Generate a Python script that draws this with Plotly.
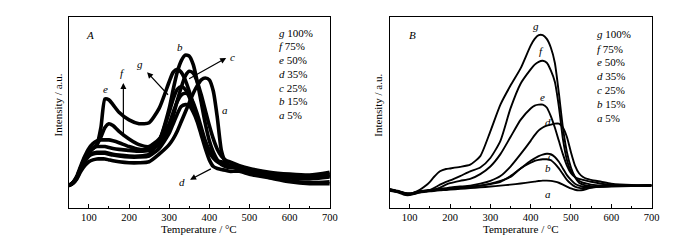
import plotly.graph_objects as go

# ---------------- Panel A data (temperature, intensity a.u.) ----------------
TA = [50, 60, 70, 80, 90, 100, 110, 120, 130, 140, 150, 160, 175, 200, 225, 250, 275,
      300, 310, 320, 330, 340, 350, 360, 370, 380, 390, 400, 410, 420, 430, 440, 450,
      475, 500, 550, 600, 650, 700]

A_a = [11.5, 12.5, 15, 19, 22, 24, 25, 25.5, 25.5, 25.5, 25, 24.5, 24, 23.5, 23.5, 24, 28,
       33, 36, 40, 45, 50, 55, 60, 64, 67, 68, 67, 61, 47, 30, 24, 22,
       20, 18.5, 16, 14, 13, 13.5]
A_b = [11.5, 12.8, 15.5, 20, 24, 27, 28.5, 29, 29, 29, 28.5, 28, 27.5, 27, 27, 28, 35,
       52, 62, 71, 77, 80, 79.5, 75, 66, 55, 44, 35, 29, 25, 22.5, 21.5, 21,
       21, 20, 18, 16.5, 16, 17]
A_c = [11.5, 13, 16, 21, 26, 29, 31, 32, 32, 32, 31.5, 31, 30.5, 30, 29.5, 30, 33,
       42, 48, 56, 63, 69, 71.5, 70.5, 66, 59, 51, 43, 36, 30.5, 27, 25, 24,
       22, 20.5, 18.5, 17.5, 17, 18.5]
A_d = [11.5, 12.8, 15.5, 20, 24.5, 27, 28, 28.5, 28.5, 28.5, 28, 27.5, 27, 26.5, 26.5, 27, 31,
       39, 44, 49, 53, 54, 53.5, 50, 45, 38, 31, 25, 21.5, 20.5, 20, 19.5, 19,
       19, 17.5, 15.5, 13.5, 12.5, 12.5]
A_e = [11.5, 13, 16, 21, 26, 29, 31, 33, 42, 57, 56.5, 54, 50, 46, 44, 44.5, 52,
       66, 71, 72.5, 71, 67, 61, 54, 47, 40, 34, 29.5, 26.5, 24.5, 24, 23, 22,
       20.5, 19, 17, 15.5, 15, 16]
A_f = [11.5, 13, 16, 21, 26, 29, 31, 33, 37, 42, 44, 43, 40, 36, 33, 32, 36,
       44, 50, 55.5, 59, 60, 59, 55, 49, 42, 35, 30, 26.5, 24.5, 23, 22.5, 22,
       21.5, 20, 18, 17, 16.5, 17.5]
A_g = [11.5, 13, 16.5, 22, 27, 31, 33.5, 35, 35.5, 35.5, 35.5, 35, 34, 32, 30.5, 30.5, 35,
       50, 57, 62, 63.5, 62, 58, 52, 46, 40, 34, 29, 26, 24, 23, 22, 21.5,
       20.5, 19.5, 17.5, 16, 15.5, 16.5]

# ---------------- Panel B data ----------------
TB = [50, 70, 90, 100, 110, 125, 140, 150, 160, 175, 190, 200, 225, 250, 275, 300, 325,
      350, 375, 400, 410, 420, 430, 440, 450, 460, 470, 480, 490, 500, 510, 520, 530,
      540, 550, 575, 600, 650, 700]

B_a = [8.8, 8, 6.5, 6.5, 7, 7.8, 8.2, 8.5, 8.7, 9, 9.2, 9.4, 9.8, 10.2, 10.6, 11, 11.5,
       12, 12.6, 13.3, 13.6, 13.9, 14.1, 14.1, 14, 13.6, 13, 12, 11, 10, 9.3, 9, 9.2,
       9.8, 10.3, 11, 11.2, 11.2, 11.3]
B_b = [9.2, 8.3, 7, 6.8, 7.3, 8, 8.5, 8.8, 9, 9.3, 9.5, 9.7, 10.2, 10.8, 11.5, 12.5, 14,
       16, 20.5, 23.5, 24.5, 25, 25.3, 25.3, 24.8, 23, 20.5, 17.5, 14.5, 12.5, 11, 10.3, 10.2,
       10.4, 10.6, 11, 11.3, 11.5, 11.6]
B_c = [9.5, 8.5, 7.3, 7.2, 7.6, 8.3, 8.7, 9, 9.2, 9.5, 9.8, 10, 10.5, 11, 11.5, 12.3, 13.5,
       16.5, 20.5, 24.5, 25.8, 27, 27.8, 28.2, 28, 26.5, 24, 20.5, 17, 14.5, 12.5, 11.5, 11,
       10.8, 10.8, 11, 11, 11.2, 11.5]
B_d = [9.8, 8.8, 7.6, 7.5, 7.8, 8.5, 8.9, 9.2, 9.4, 9.8, 10.2, 10.5, 11, 11.5, 12.5, 14, 16.5,
       21.5, 28, 35, 38, 40.5, 42, 43, 43.5, 44, 44, 42, 37, 29, 22, 18, 16,
       15, 14.5, 13.5, 12.5, 11.8, 11.8]
B_e = [9, 8.2, 7, 6.9, 7.4, 8.3, 8.6, 8.8, 9.3, 10.5, 12, 12.8, 14, 15, 17.5, 21.5, 28,
       37, 46, 52, 53.5, 54, 54, 52.5, 48, 42, 35, 28, 22, 18, 16, 15, 14.5,
       14, 13.5, 12.5, 11.8, 11.5, 11.5]
B_f = [9.3, 8.4, 7.2, 7, 7.6, 8.5, 8.8, 9.2, 10.2, 12, 13.5, 14.2, 16.5, 19, 21, 26, 35,
       52, 65, 72.5, 75, 76.5, 77, 76, 72, 66, 53, 36, 25, 19, 16, 14, 13,
       12.5, 12, 11.5, 11.5, 11.5, 11.8]
B_g = [9.6, 8.6, 7.4, 7.2, 7.8, 9.3, 11.5, 13.5, 16, 19, 20.2, 20.5, 21.3, 22.5, 27, 40, 54,
       64, 73, 85, 88.5, 90.5, 90.5, 88.5, 84, 76, 60, 42, 29, 21, 16, 13, 12,
       11.5, 11.2, 11, 11.2, 11.3, 11.5]

SERIES_NAMES = ["a", "b", "c", "d", "e", "f", "g"]
LEGEND_TEXT = ["g 100%", "f 75%", "e 50%", "d 35%", "c 25%", "b 15%", "a 5%"]
X_TICKS = [100, 200, 300, 400, 500, 600, 700]

A_series = [A_a, A_b, A_c, A_d, A_e, A_f, A_g]
B_series = [B_a, B_b, B_c, B_d, B_e, B_f, B_g]

SERIF = "Liberation Serif, Times New Roman, serif"

fig = go.Figure()
for name, ys in zip(SERIES_NAMES, A_series):
    fig.add_trace(go.Scatter(x=TA, y=ys, mode="lines", name=name,
                             line=dict(color="black", width=3.6, shape="spline", smoothing=0.6),
                             xaxis="x", yaxis="y", showlegend=False))
for name, ys in zip(SERIES_NAMES, B_series):
    fig.add_trace(go.Scatter(x=TB, y=ys, mode="lines", name=name,
                             line=dict(color="black", width=1.9, shape="spline", smoothing=0.6),
                             xaxis="x2", yaxis="y2", showlegend=False))

axis_common = dict(range=[50, 700], tickvals=X_TICKS, ticks="inside", ticklen=4, tickwidth=1,
                   tickcolor="black", showline=True, linecolor="black", linewidth=1,
                   mirror=True, showgrid=False, zeroline=False,
                   tickfont=dict(family=SERIF, size=10.5, color="black"),
                   minor=dict(ticks="inside", ticklen=2, tickwidth=1, tickcolor="black",
                              tickvals=[150, 250, 350, 450, 550, 650], showgrid=False))
yaxis_common = dict(range=[0, 100], showticklabels=False, ticks="", showline=True,
                    linecolor="black", linewidth=1, mirror=True, showgrid=False,
                    zeroline=False, domain=[0.16875, 0.9625])

fig.update_layout(
    width=700, height=240,
    margin=dict(l=0, r=0, t=0, b=0),
    paper_bgcolor="white", plot_bgcolor="white",
    xaxis=dict(domain=[61.5 / 700, 325.5 / 700], anchor="y", **axis_common),
    yaxis=dict(anchor="x", **yaxis_common),
    xaxis2=dict(domain=[386 / 700, 651 / 700], anchor="y2", **axis_common),
    yaxis2=dict(anchor="x2", **yaxis_common),
    showlegend=False,
)

ann = []
lab_font = dict(family=SERIF, size=11, color="black")

# axis titles
for xc in [193.5 / 700, 518.5 / 700]:
    ann.append(dict(text="Temperature / °C", x=xc, y=1 - 221 / 240, xref="paper", yref="paper",
                    showarrow=False, font=lab_font, xanchor="center", yanchor="middle"))
for xc in [51 / 700, 374 / 700]:
    ann.append(dict(text="Intensity / a.u.", x=xc, y=1 - 97 / 240, xref="paper", yref="paper",
                    showarrow=False, font=lab_font, textangle=-90, xanchor="center", yanchor="middle"))

# panel letters
ann.append(dict(text="<i>A</i>", x=103.7, y=90.7, xref="x", yref="y", showarrow=False, font=lab_font))
ann.append(dict(text="<i>B</i>", x=105.7, y=90.7, xref="x2", yref="y2", showarrow=False, font=lab_font))

# legends (text blocks)
legA_y = [91.6, 84.6, 77.6, 70.2, 62.7, 55.7, 48.4]
legB_y = [91.1, 83.4, 76.4, 68.9, 61.5, 54.3, 47.0]
for txt, ya, yb in zip(LEGEND_TEXT, legA_y, legB_y):
    letter, pct = txt.split(" ")
    t = f"<i>{letter}</i> {pct}"
    ann.append(dict(text=t, x=567.5, y=ya, xref="x", yref="y", showarrow=False,
                    font=lab_font, xanchor="left", yanchor="middle"))
    ann.append(dict(text=t, x=558.5, y=yb, xref="x2", yref="y2", showarrow=False,
                    font=lab_font, xanchor="left", yanchor="middle"))

# curve labels panel A
labA = {"b": (327, 84.1), "c": (458, 79), "g": (228.5, 75.5), "f": (183.4, 70.6),
        "e": (140.6, 62.2), "a": (440, 51.3), "d": (331, 13.4)}
for k, (x, y) in labA.items():
    ann.append(dict(text=f"<i>{k}</i>", x=x, y=y, xref="x", yref="y", showarrow=False, font=lab_font))

# arrows panel A (tail on the curve, head towards the label)
arrowsA = [((185.9, 36.5), (185.9, 65.4)),
           ((300.6, 58.4), (245, 71)),
           ((346, 67.1), (442, 78.5)),
           ((407.5, 20.7), (352, 14.6))]
for (tx, ty), (hx, hy) in arrowsA:
    ann.append(dict(text="", x=hx, y=hy, ax=tx, ay=ty, xref="x", yref="y", axref="x", ayref="y",
                    showarrow=True, arrowhead=2, arrowsize=1, arrowwidth=1.2, arrowcolor="black"))

# curve labels panel B
labB = {"g": (413.8, 95.1), "f": (426, 82), "e": (430, 57.8), "d": (442.5, 44.7),
        "c": (450, 27.2), "b": (444, 20.7), "a": (444, 7.2)}
for k, (x, y) in labB.items():
    ann.append(dict(text=f"<i>{k}</i>", x=x, y=y, xref="x2", yref="y2", showarrow=False, font=lab_font))

fig.update_layout(annotations=ann)
fig.write_html("out.html")
